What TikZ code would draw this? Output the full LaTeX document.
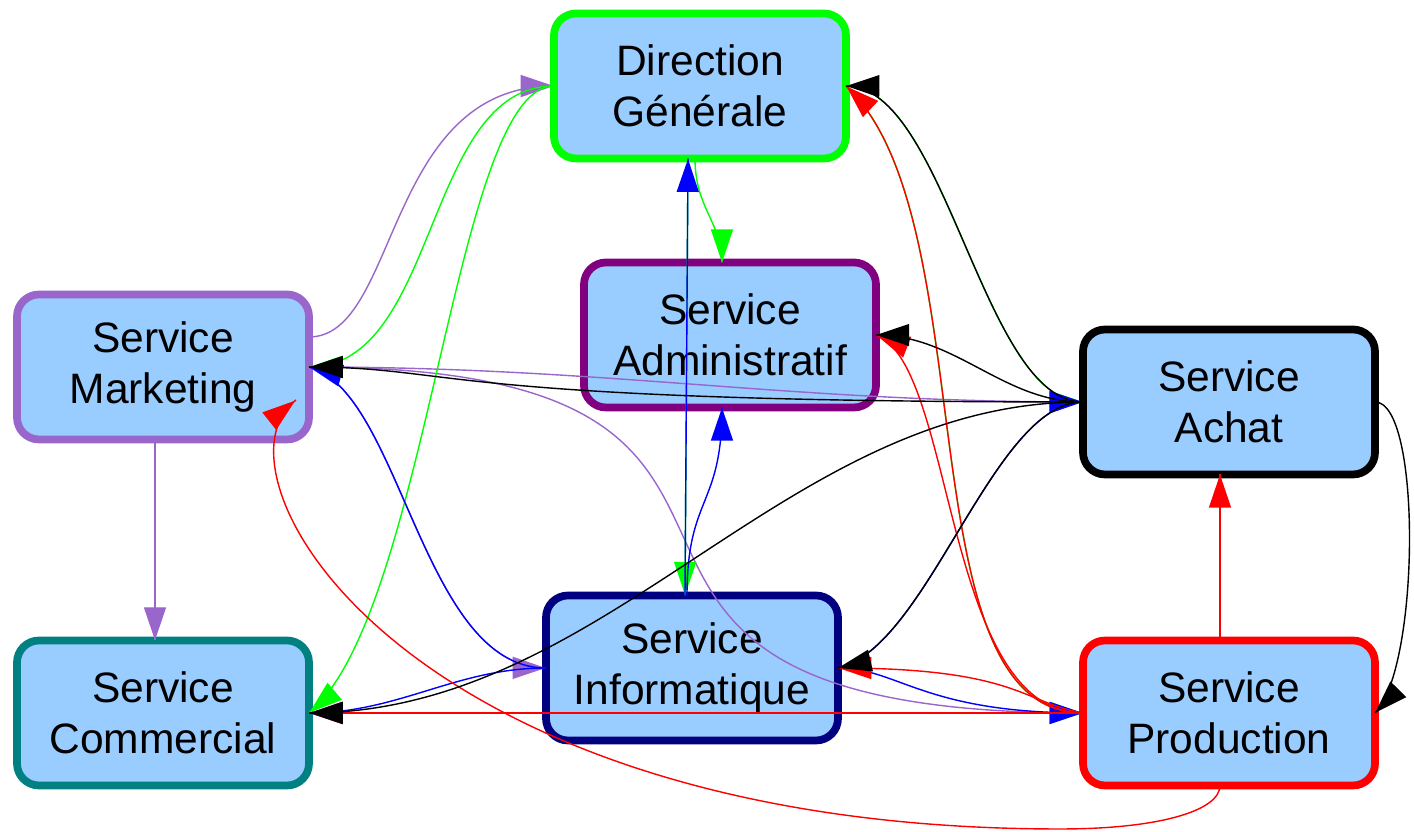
\documentclass[tikz,border=0pt]{standalone}
\usepackage{fontspec}
\setmainfont{Liberation Sans}
\usetikzlibrary{arrows.meta,decorations.markings}

\definecolor{boxfill}{HTML}{99CCFF}
\definecolor{mktcol}{HTML}{9966CC}
\definecolor{admcol}{HTML}{800080}
\definecolor{comcol}{HTML}{008080}
\definecolor{infcol}{HTML}{000080}
\definecolor{lgreen}{HTML}{00FF00}

\begin{document}
\begin{tikzpicture}[
  service/.style={draw, line width=2.2pt, fill=boxfill, rounded corners=0.22cm,
    minimum width=2.92cm, minimum height=1.45cm, align=center, outer sep=0pt,
    font=\fontsize{12.1}{14.6}\selectfont},
  link/.style={line width=0.4pt, postaction={decorate},
    decoration={markings, mark=at position 0.999 with {\arrow{Triangle[length=0.33cm,width=0.22cm]}}}}
]
\useasboundingbox (0,0) rectangle (14.14,8.32);

% Services
\node[service, draw=lgreen] (dg) at (7.00,7.46) {Direction\\Générale};
\node[service, draw=admcol] (adm) at (7.30,4.97) {Service\\Administratif};
\node[service, draw=mktcol] (mkt) at (1.63,4.65) {Service\\Marketing};
\node[service, draw=black] (ach) at (12.29,4.30) {Service\\Achat};
\node[service, draw=comcol] (com) at (1.63,1.19) {Service\\Commercial};
\node[service, draw=infcol] (inf) at (6.92,1.64) {Service\\Informatique};
\node[service, draw=red] (prd) at (12.29,1.19) {Service\\Production};
\coordinate (bend) at (10.60,0.03);

% Marketing links
\draw[link, mktcol] ([yshift=0.3cm]mkt.east) .. controls +(0.9,0) and +(-1.7,0) .. (dg.west);
\draw[link, mktcol] ([xshift=-0.08cm]mkt.south) -- ([xshift=-0.08cm]com.north);
\draw[link, mktcol] (mkt.east) .. controls +(0.92,-0.24) and +(-1.24,0) .. (inf.west);
\draw[link, mktcol] (mkt.east) .. controls +(3,0) and +(-3,0) .. (ach.west);
\draw[link, mktcol] (mkt.east) .. controls +(6.0,0) and +(-6.3,0) .. (prd.west);

% Direction links
\draw[link, lgreen] (dg.west) .. controls +(-1.3,0) and +(1.3,0) .. (mkt.east);
\draw[link, lgreen] (dg.west) .. controls +(-1.0,0) and +(1.2,1.0) .. (com.east);
\draw[link, lgreen] ([xshift=-0.12cm]dg.south) -- ([xshift=-0.07cm]inf.north);
\draw[link, lgreen] ([xshift=-0.05cm]dg.south) .. controls +(0,-0.5) and +(0,0.4) .. ([xshift=-0.08cm]adm.north);
\draw[link, lgreen] (dg.east) .. controls +(1.0,0) and +(-1.0,0) .. (ach.west);
\draw[link, lgreen] (dg.east) .. controls +(1.42,-1.32) and +(-1.81,0) .. (prd.west);

% Informatique links
\draw[link, blue] (inf.west) .. controls +(-1.24,0) and +(0.92,-0.24) .. (mkt.east);
\draw[link, blue] ([xshift=-0.07cm]inf.north) -- ([xshift=-0.12cm]dg.south);
\draw[link, blue] ([xshift=-0.05cm]inf.north) .. controls +(0,1.0) and +(0,-1.0) .. ([xshift=-0.08cm]adm.south);
\draw[link, blue] (inf.east) .. controls +(0.9,0.2) and +(-0.9,0) .. (ach.west);
\draw[link, blue] (inf.west) .. controls +(-0.9,0) and +(0.9,0) .. (com.east);
\draw[link, blue] (inf.east) .. controls +(0.6,0) and +(-1.6,0) .. (prd.west);

% Production links
\draw[link, red] ([xshift=-0.09cm]prd.south) .. controls +(0,-0.25) and +(1.0,0) .. (bend)
  .. controls +(-6.6,0) and +(-0.95,-0.72) .. ([xshift=-0.13cm,yshift=-0.33cm]mkt.east);
\draw[link, red] (prd.west) .. controls +(-1.81,0) and +(1.42,-1.32) .. (dg.east);
\draw[link, red] (prd.west) .. controls +(-1.4,0) and +(0.8,-0.3) .. (adm.east);
\draw[link, red] (prd.west) -- (com.east);
\draw[link, red] (prd.west) .. controls +(-0.6,0.1) and +(1.8,0) .. (inf.east);
\draw[link, red] ([xshift=-0.09cm]prd.north) -- ([xshift=-0.09cm]ach.south);

% Achat links
\draw[link, black] (ach.west) .. controls +(-6.5,0) and +(1.5,0) .. (mkt.east);
\draw[link, black] (ach.west) .. controls +(-1.0,0) and +(1.0,0) .. (dg.east);
\draw[link, black] (ach.west) .. controls +(-0.8,0) and +(0.8,0) .. (adm.east);
\draw[link, black] (ach.west) .. controls +(-3,0) and +(3,0) .. (com.east);
\draw[link, black] (ach.west) .. controls +(-0.9,0) and +(0.9,0.2) .. (inf.east);
\draw[link, black] (ach.east) .. controls +(0.47,0) and +(0.45,0.45) .. (prd.east);
\end{tikzpicture}
\end{document}
